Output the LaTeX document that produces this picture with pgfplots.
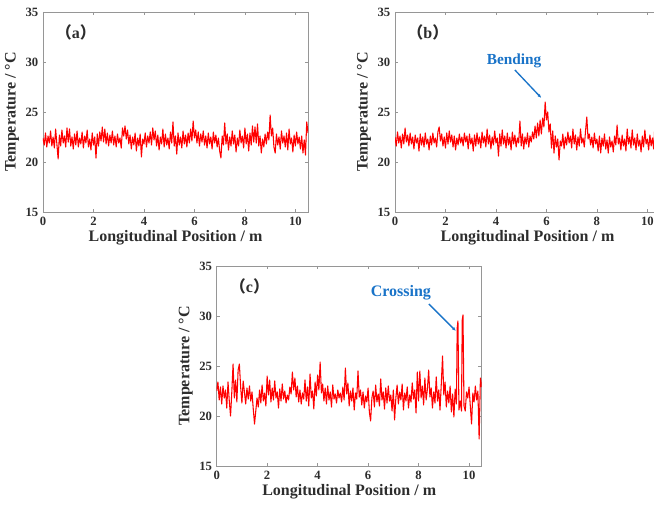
\documentclass[border=0pt]{standalone}
\usepackage{pgfplots}
\pgfplotsset{compat=1.18}
\usetikzlibrary{arrows.meta}
\usepackage{fontspec}
\setmainfont{Liberation Serif}
\newfontfamily\cjk{Noto Sans CJK SC}
\definecolor{axgray}{RGB}{150,150,150}
\definecolor{annblue}{RGB}{25,115,200}
\definecolor{txt}{RGB}{45,45,45}
\pgfplotsset{
 panel/.style={
  scale only axis, width=198.75pt, height=150pt,
  xmin=0,xmax=10.5,ymin=15,ymax=35,
  xtick={0,2,4,6,8,10}, ytick={15,20,25,30,35},
  tick align=inside, major tick length=2.5pt,
  axis line style={axgray}, every tick/.style={axgray},
  tick label style={font=\bfseries\fontsize{9.5}{10}\selectfont, text=txt},
  /pgf/number format/assume math mode=true,
  label style={font=\bfseries\fontsize{12}{14}\selectfont, text=txt},
  xlabel={Longitudinal Position / m},
  ylabel={Temperature / °C},
  xlabel style={yshift=3pt},
  ylabel style={yshift=-2pt},
 },
 sig/.style={red, line width=0.8pt, mark=none, line join=round},
}
\begin{document}
\begin{tikzpicture}
\useasboundingbox (0,0) rectangle (490.5pt,379.5pt);
\clip (0,0) rectangle (490.5pt,379.5pt);
% (a)
\begin{axis}[panel, at={(32.25pt,220.5pt)}, anchor=south west]
\addplot[sig] coordinates {
(0.00,22.4)(0.05,21.7)(0.10,22.9)(0.15,21.5)(0.20,22.6)(0.25,21.9)(0.30,23.1)(0.35,21.6)(0.40,22.5)(0.45,21.4)
(0.50,23.3)(0.55,21.8)(0.60,20.3)(0.65,22.7)(0.70,21.6)(0.75,23.2)(0.80,21.9)(0.85,22.6)(0.90,21.5)(0.95,23.4)
(1.00,22.0)(1.05,23.3)(1.10,21.6)(1.15,22.5)(1.20,21.3)(1.25,22.8)(1.30,21.7)(1.35,23.1)(1.40,21.5)(1.45,22.4)
(1.50,21.8)(1.55,23.0)(1.60,21.4)(1.65,22.6)(1.70,21.9)(1.75,23.2)(1.80,21.5)(1.85,22.3)(1.90,21.2)(1.95,22.9)
(2.00,21.7)(2.05,22.5)(2.10,20.4)(2.15,22.8)(2.20,21.6)(2.25,23.0)(2.30,22.1)(2.35,23.5)(2.40,22.0)(2.45,23.3)
(2.50,21.8)(2.55,22.9)(2.60,21.6)(2.65,22.7)(2.70,21.9)(2.75,23.1)(2.80,21.7)(2.85,22.6)(2.90,21.5)(2.95,22.8)
(3.00,21.9)(3.05,22.4)(3.10,21.4)(3.15,23.4)(3.20,22.6)(3.25,23.6)(3.30,22.3)(3.35,23.2)(3.40,21.8)(3.45,22.7)
(3.50,21.3)(3.55,22.5)(3.60,21.7)(3.65,22.9)(3.70,21.1)(3.75,22.4)(3.80,21.6)(3.85,22.8)(3.90,20.5)(3.95,22.3)
(4.00,21.8)(4.05,22.9)(4.10,21.5)(4.15,22.6)(4.20,21.9)(4.25,23.0)(4.30,21.7)(4.35,23.4)(4.40,22.2)(4.45,23.1)
(4.50,21.6)(4.55,22.7)(4.60,21.2)(4.65,22.5)(4.70,21.8)(4.75,23.3)(4.80,21.5)(4.85,22.8)(4.90,21.7)(4.95,22.4)
(5.00,21.3)(5.05,23.0)(5.10,21.9)(5.15,24.0)(5.20,21.6)(5.25,22.6)(5.30,20.8)(5.35,22.9)(5.40,21.7)(5.45,22.5)
(5.50,21.4)(5.55,23.1)(5.60,21.8)(5.65,22.7)(5.70,21.5)(5.75,22.9)(5.80,21.9)(5.85,23.3)(5.90,22.1)(5.95,24.1)
(6.00,22.4)(6.05,23.2)(6.10,21.9)(6.15,23.0)(6.20,21.6)(6.25,22.8)(6.30,22.0)(6.35,23.1)(6.40,21.7)(6.45,22.6)
(6.50,21.4)(6.55,22.9)(6.60,21.8)(6.65,22.5)(6.70,21.3)(6.75,23.0)(6.80,21.9)(6.85,22.7)(6.90,21.5)(6.95,22.4)
(7.00,21.1)(7.05,20.4)(7.10,22.6)(7.15,21.7)(7.20,23.9)(7.25,21.8)(7.30,22.8)(7.35,21.2)(7.40,22.5)(7.45,21.6)
(7.50,23.1)(7.55,21.8)(7.60,22.7)(7.65,21.0)(7.70,22.4)(7.75,21.6)(7.80,23.2)(7.85,21.9)(7.90,22.6)(7.95,21.4)
(8.00,23.4)(8.05,21.8)(8.10,22.8)(8.15,21.1)(8.20,22.9)(8.25,21.7)(8.30,23.6)(8.35,22.0)(8.40,23.5)(8.45,21.9)
(8.50,23.8)(8.55,21.6)(8.60,22.6)(8.65,20.9)(8.70,22.3)(8.75,21.5)(8.80,22.8)(8.85,21.8)(8.90,23.0)(8.95,22.2)
(9.00,24.7)(9.05,22.6)(9.10,23.4)(9.15,21.5)(9.20,20.9)(9.25,22.8)(9.30,21.7)(9.35,22.5)(9.40,21.3)(9.45,23.1)
(9.50,21.9)(9.55,22.6)(9.60,21.5)(9.65,22.9)(9.70,21.2)(9.75,23.3)(9.80,21.8)(9.85,22.4)(9.90,21.0)(9.95,22.7)
(10.00,21.6)(10.05,23.0)(10.10,21.8)(10.15,22.5)(10.20,21.3)(10.25,22.6)(10.30,20.9)(10.35,22.2)(10.40,20.7)(10.45,24.0)
(10.50,22.9)};
\node[font=\bfseries\fontsize{12}{14}\selectfont, text=txt] at (axis cs:1.3,33) {{\cjk （}a{\cjk ）}};
\end{axis}
% (b)
\begin{axis}[panel, at={(296.25pt,220.5pt)}, anchor=south west]
\addplot[sig] coordinates {
(0.00,22.5)(0.05,21.6)(0.10,23.0)(0.15,21.9)(0.20,22.6)(0.25,21.4)(0.30,22.8)(0.35,21.8)(0.40,23.4)(0.45,22.0)
(0.50,22.7)(0.55,21.6)(0.60,22.9)(0.65,21.8)(0.70,22.5)(0.75,21.3)(0.80,22.7)(0.85,21.9)(0.90,22.4)(0.95,21.1)
(1.00,22.8)(1.05,21.7)(1.10,22.5)(1.15,21.5)(1.20,22.9)(1.25,21.8)(1.30,22.3)(1.35,21.2)(1.40,22.6)(1.45,21.7)
(1.50,22.9)(1.55,21.9)(1.60,22.4)(1.65,21.5)(1.70,23.0)(1.75,23.5)(1.80,22.1)(1.85,22.8)(1.90,21.6)(1.95,22.5)
(2.00,21.4)(2.05,22.9)(2.10,21.8)(2.15,23.1)(2.20,22.0)(2.25,22.7)(2.30,21.5)(2.35,22.6)(2.40,21.2)(2.45,22.4)
(2.50,21.7)(2.55,22.8)(2.60,21.9)(2.65,22.5)(2.70,21.6)(2.75,22.9)(2.80,22.0)(2.85,22.6)(2.90,21.3)(2.95,22.8)
(3.00,21.8)(3.05,22.4)(3.10,21.1)(3.15,22.7)(3.20,21.6)(3.25,22.9)(3.30,21.8)(3.35,22.5)(3.40,21.4)(3.45,23.0)
(3.50,21.9)(3.55,22.6)(3.60,21.5)(3.65,23.3)(3.70,21.8)(3.75,22.7)(3.80,21.3)(3.85,22.5)(3.90,21.7)(3.95,23.1)
(4.00,21.9)(4.05,22.4)(4.10,20.6)(4.15,22.8)(4.20,21.6)(4.25,23.2)(4.30,21.8)(4.35,22.6)(4.40,21.4)(4.45,22.9)
(4.50,21.7)(4.55,22.5)(4.60,21.2)(4.65,23.0)(4.70,21.8)(4.75,22.7)(4.80,21.5)(4.85,22.4)(4.90,21.9)(4.95,24.1)
(5.00,21.6)(5.05,22.8)(5.10,21.3)(5.15,22.5)(5.20,21.8)(5.25,22.9)(5.30,21.5)(5.35,22.6)(5.40,22.0)(5.45,23.0)
(5.50,22.3)(5.55,23.6)(5.60,22.4)(5.65,23.9)(5.70,22.6)(5.75,24.2)(5.80,22.8)(5.85,24.4)(5.90,23.5)(5.95,26.0)
(6.00,24.2)(6.05,25.0)(6.10,23.0)(6.15,23.8)(6.20,21.4)(6.25,23.1)(6.30,20.9)(6.35,22.6)(6.40,21.5)(6.45,22.3)
(6.50,20.2)(6.55,22.1)(6.60,21.6)(6.65,22.8)(6.70,21.3)(6.75,22.5)(6.80,21.7)(6.85,23.0)(6.90,21.9)(6.95,22.6)
(7.00,21.4)(7.05,23.3)(7.10,21.8)(7.15,22.7)(7.20,21.2)(7.25,22.5)(7.30,21.6)(7.35,23.3)(7.40,21.9)(7.45,22.4)
(7.50,21.5)(7.55,23.1)(7.60,24.5)(7.65,22.3)(7.70,22.8)(7.75,21.7)(7.80,22.5)(7.85,21.4)(7.90,22.9)(7.95,21.8)
(8.00,22.3)(8.05,21.1)(8.10,22.6)(8.15,20.9)(8.20,22.4)(8.25,21.6)(8.30,22.8)(8.35,21.3)(8.40,22.2)(8.45,20.9)
(8.50,22.5)(8.55,21.5)(8.60,22.1)(8.65,21.0)(8.70,22.6)(8.75,21.7)(8.80,23.7)(8.85,21.8)(8.90,22.4)(8.95,21.2)
(9.00,22.7)(9.05,21.6)(9.10,22.3)(9.15,21.1)(9.20,23.3)(9.25,21.8)(9.30,22.5)(9.35,21.4)(9.40,23.2)(9.45,21.7)
(9.50,22.4)(9.55,21.2)(9.60,22.8)(9.65,21.6)(9.70,22.2)(9.75,21.0)(9.80,22.6)(9.85,21.5)(9.90,23.2)(9.95,21.8)
(10.00,22.3)(10.05,21.2)(10.10,22.7)(10.15,21.6)(10.20,22.4)(10.25,21.3)(10.30,23.9)(10.35,21.8)(10.40,22.5)(10.45,21.4)
(10.50,22.6)};
\node[font=\bfseries\fontsize{12}{14}\selectfont, text=txt] at (axis cs:1.3,33) {{\cjk （}b{\cjk ）}};
\node[font=\bfseries\fontsize{11.5}{13}\selectfont, text=annblue] at (axis cs:4.72,30.1) {Bending};
\draw[annblue, line width=1pt, -{Latex[length=3pt,width=2.5pt]}] (axis cs:4.75,29.2) -- (axis cs:5.8,26.4);
\end{axis}
% (c)
\begin{axis}[panel, at={(162.5pt,30pt)}, anchor=south west]
\addplot[sig] coordinates {
(0.00,22.5)(0.05,23.4)(0.10,21.6)(0.15,22.9)(0.20,21.2)(0.25,23.0)(0.30,21.8)(0.35,22.6)(0.40,20.8)(0.45,23.4)
(0.50,21.5)(0.55,20.0)(0.60,22.4)(0.65,25.2)(0.70,21.8)(0.75,23.6)(0.80,21.4)(0.85,24.6)(0.90,25.2)(0.95,22.9)
(1.00,21.3)(1.05,23.5)(1.10,22.4)(1.15,21.2)(1.20,22.8)(1.25,21.7)(1.30,23.0)(1.35,21.5)(1.40,22.4)(1.45,20.7)
(1.50,19.2)(1.55,20.5)(1.60,21.8)(1.65,20.9)(1.70,22.6)(1.75,21.3)(1.80,23.1)(1.85,21.5)(1.90,22.3)(1.95,21.0)
(2.00,24.0)(2.05,22.1)(2.10,23.6)(2.15,21.4)(2.20,22.8)(2.25,21.6)(2.30,23.5)(2.35,21.8)(2.40,22.4)(2.45,20.8)
(2.50,22.7)(2.55,21.5)(2.60,23.2)(2.65,21.7)(2.70,22.5)(2.75,21.3)(2.80,22.1)(2.85,21.6)(2.90,22.9)(2.95,22.2)
(3.00,24.4)(3.05,22.6)(3.10,23.8)(3.15,21.9)(3.20,23.0)(3.25,21.4)(3.30,22.6)(3.35,21.2)(3.40,22.3)(3.45,21.7)
(3.50,23.6)(3.55,21.5)(3.60,22.9)(3.65,21.0)(3.70,24.2)(3.75,21.8)(3.80,22.5)(3.85,20.7)(3.90,23.4)(3.95,22.0)
(4.00,24.1)(4.05,22.6)(4.10,25.4)(4.15,22.3)(4.20,23.2)(4.25,21.5)(4.30,22.8)(4.35,21.2)(4.40,23.0)(4.45,21.6)
(4.50,22.4)(4.55,20.9)(4.60,23.1)(4.65,21.7)(4.70,22.2)(4.75,21.3)(4.80,22.6)(4.85,21.8)(4.90,22.3)(4.95,21.4)
(5.00,22.9)(5.05,21.6)(5.10,24.8)(5.15,22.2)(5.20,23.3)(5.25,21.0)(5.30,22.5)(5.35,21.5)(5.40,22.8)(5.45,20.6)
(5.50,22.3)(5.55,21.7)(5.60,24.5)(5.65,21.9)(5.70,22.6)(5.75,21.1)(5.80,22.4)(5.85,20.8)(5.90,22.0)(5.95,21.4)
(6.00,22.8)(6.05,20.4)(6.10,19.5)(6.15,21.8)(6.20,22.5)(6.25,20.9)(6.30,23.1)(6.35,21.4)(6.40,22.2)(6.45,21.0)
(6.50,23.7)(6.55,21.6)(6.60,22.4)(6.65,20.7)(6.70,22.8)(6.75,21.3)(6.80,23.0)(6.85,21.5)(6.90,22.1)(6.95,20.5)
(7.00,22.6)(7.05,19.6)(7.10,21.8)(7.15,23.1)(7.20,21.2)(7.25,22.4)(7.30,21.6)(7.35,23.2)(7.40,20.6)(7.45,22.3)
(7.50,21.5)(7.55,22.9)(7.60,20.8)(7.65,22.1)(7.70,21.4)(7.75,23.3)(7.80,21.7)(7.85,22.6)(7.90,20.3)(7.95,24.4)
(8.00,21.5)(8.05,24.5)(8.10,21.8)(8.15,23.0)(8.20,21.1)(8.25,23.8)(8.30,21.6)(8.35,22.7)(8.40,24.6)(8.45,21.9)
(8.50,22.8)(8.55,20.8)(8.60,22.4)(8.65,21.3)(8.70,23.9)(8.75,21.5)(8.80,22.6)(8.85,20.6)(8.90,23.2)(8.95,26.0)
(9.00,22.1)(9.05,23.4)(9.10,20.9)(9.15,22.5)(9.20,21.3)(9.25,23.0)(9.30,20.4)(9.35,22.2)(9.40,19.9)(9.45,22.7)
(9.50,21.2)(9.53,28.8)(9.56,29.5)(9.60,20.6)(9.65,21.5)(9.70,20.5)(9.73,29.6)(9.76,30.1)(9.80,21.0)(9.85,20.5)(9.90,22.4)(9.95,21.8)
(10.00,22.9)(10.05,21.0)(10.10,19.2)(10.15,22.3)(10.20,21.4)(10.25,23.0)(10.30,21.6)(10.35,22.5)(10.40,17.7)(10.45,23.8)
(10.50,22.9)};
\node[font=\bfseries\fontsize{12}{14}\selectfont, text=txt] at (axis cs:1.3,33) {{\cjk （}c{\cjk ）}};
\node[font=\bfseries\fontsize{12}{14}\selectfont, text=annblue] at (axis cs:7.3,32.3) {Crossing};
\draw[annblue, line width=1pt, -{Latex[length=3pt,width=2.5pt]}] (axis cs:8.41,31.2) -- (axis cs:9.48,28.5);
\end{axis}
\end{tikzpicture}
\end{document}
